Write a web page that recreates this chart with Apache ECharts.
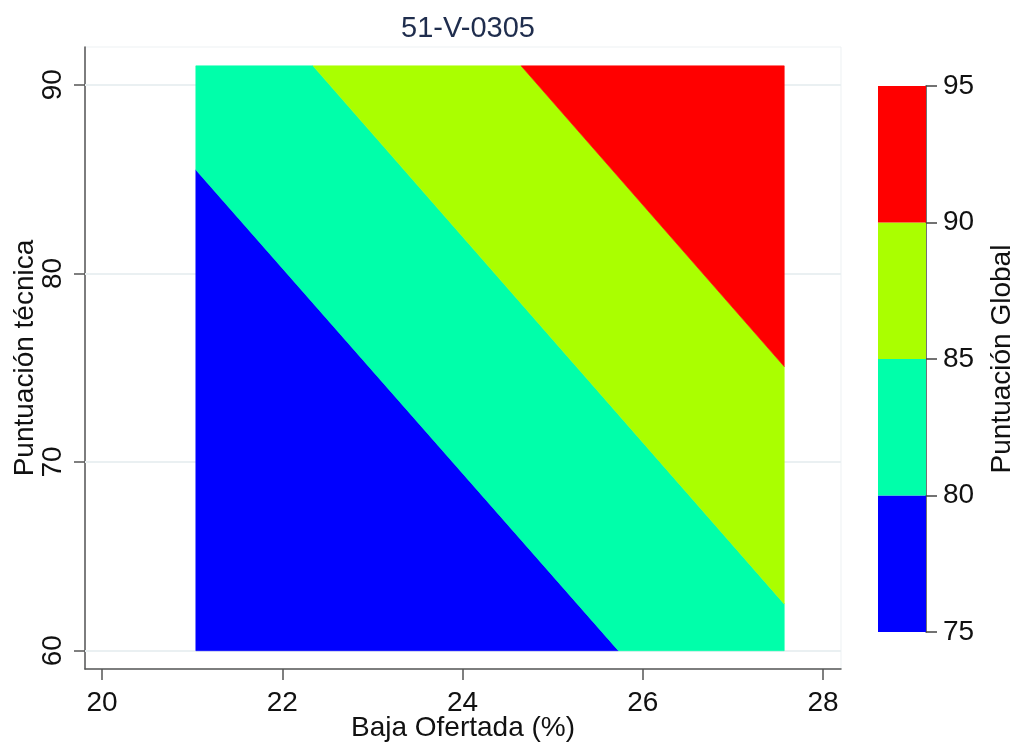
<!DOCTYPE html>
<html>
<head>
<meta charset="utf-8">
<script src="https://cdn.jsdelivr.net/npm/echarts@6/dist/echarts.min.js"></script>
<style>
html,body{margin:0;padding:0;background:#fff;}
#c{width:1013px;height:744px;}
</style>
</head>
<body>
<div id="c"></div>
<script>
// ---- data ----
const titleText = '51-V-0305';
const xTicks = [20, 22, 24, 26, 28];
const yTicks = [60, 70, 80, 90];
const levels = [75, 80, 85, 90, 95];
const levelColors = ['#0000ff', '#00ffaa', '#aaff00', '#ff0000'];

// contour bands (vertices in data units: [Baja Ofertada %, Puntuación técnica])
const bandBelow80 = [[21.04, 60], [25.73, 60], [21.04, 85.49]];
const band80to85 = [[21.04, 85.49], [25.73, 60], [27.57, 60], [27.57, 62.48], [22.34, 91], [21.04, 91]];
const band85to90 = [[22.34, 91], [27.57, 62.48], [27.57, 75.06], [24.65, 91]];
const band90up = [[24.65, 91], [27.57, 75.06], [27.57, 91]];
const bands = [bandBelow80, band80to85, band85to90, band90up];

const FONT = 'Liberation Sans, Arial, sans-serif';
const axisGray = '#555555';

const chart = echarts.init(document.getElementById('c'), null, {renderer: 'canvas'});

chart.setOption({
  animation: false,
  backgroundColor: '#ffffff',
  title: {
    text: titleText,
    left: 463,
    textAlign: 'center',
    top: 9,
    textStyle: {fontFamily: FONT, fontSize: 29, fontWeight: 'normal', color: '#1f2d4d'}
  },
  grid: [
    {left: 85, right: 172, top: 47, bottom: 75, outerBoundsMode: 'none', containLabel: false,
     show: true, borderColor: '#edf1f3', borderWidth: 1, backgroundColor: '#ffffff'},
    {left: 878, top: 86, width: 48, height: 546, outerBoundsMode: 'none', containLabel: false}
  ],
  xAxis: [
    {
      type: 'value', gridIndex: 0, min: 19.81, max: 28.2,
      name: 'Baja Ofertada (%)', nameLocation: 'middle', nameGap: 45, nameMoveOverlap: false,
      nameTextStyle: {fontFamily: FONT, fontSize: 28, color: '#111'},
      axisLine: {show: true, onZero: false, lineStyle: {color: axisGray, width: 1.5}},
      axisTick: {show: true, length: 11, customValues: xTicks, lineStyle: {color: axisGray, width: 1.5}},
      axisLabel: {customValues: xTicks, margin: 20, fontFamily: FONT, fontSize: 28, color: '#111'},
      splitLine: {show: false}
    },
    {
      type: 'category', gridIndex: 1, data: [''],
      show: false
    }
  ],
  yAxis: [
    {
      type: 'value', gridIndex: 0, min: 59.03, max: 92.0,
      name: 'Puntuación técnica', nameLocation: 'middle', nameGap: 46, nameMoveOverlap: false,
      nameTextStyle: {fontFamily: FONT, fontSize: 28, color: '#111'},
      axisLine: {show: true, onZero: false, lineStyle: {color: axisGray, width: 1.5}},
      axisTick: {show: true, length: 11, customValues: yTicks, lineStyle: {color: axisGray, width: 1.5}},
      axisLabel: {customValues: yTicks, rotate: 90, margin: 18, fontFamily: FONT, fontSize: 28, color: '#111'},
      splitLine: {show: false}
    },
    {
      type: 'value', gridIndex: 1, position: 'right', min: levels[0], max: levels[levels.length - 1], interval: 5,
      name: 'Puntuación Global', nameLocation: 'middle', nameGap: 62,
      nameTextStyle: {fontFamily: FONT, fontSize: 28, color: '#111'},
      axisLine: {show: true, lineStyle: {color: '#444', width: 1.5}},
      axisTick: {show: true, length: 11, lineStyle: {color: '#444', width: 1.5}},
      axisLabel: {margin: 17, fontFamily: FONT, fontSize: 28, color: '#111'},
      splitLine: {show: false}
    }
  ],
  series: [
    {
      type: 'custom',
      xAxisIndex: 0, yAxisIndex: 0,
      silent: true,
      z: 3,
      data: bands.map((b, i) => [b[0][0], b[0][1], i]),
      renderItem: function (params, api) {
        const idx = api.value(2);
        const pts = bands[idx].map(p => api.coord(p));
        return {
          type: 'polygon',
          shape: {points: pts},
          style: {fill: levelColors[idx], stroke: levelColors[idx], lineWidth: 0.6}
        };
      },
      markLine: {
        silent: true,
        symbol: ['none', 'none'],
        label: {show: false},
        z: 1,
        lineStyle: {color: '#eaf0f2', width: 2, type: 'solid'},
        data: yTicks.map(v => ({yAxis: v}))
      }
    },
    {
      type: 'custom',
      xAxisIndex: 1, yAxisIndex: 1,
      silent: true,
      z: 1,
      encode: {x: 0, y: [1, 2]},
      data: levelColors.map((c, i) => [0, levels[i], levels[i + 1], i]),
      renderItem: function (params, api) {
        const lo = api.coord([api.value(0), api.value(1)]);
        const hi = api.coord([api.value(0), api.value(2)]);
        const w = api.size([1, 0])[0];
        return {
          type: 'rect',
          shape: {x: lo[0] - w / 2, y: hi[1], width: w, height: lo[1] - hi[1]},
          style: {fill: levelColors[api.value(3)]}
        };
      }
    }
  ]
});
</script>
</body>
</html>
